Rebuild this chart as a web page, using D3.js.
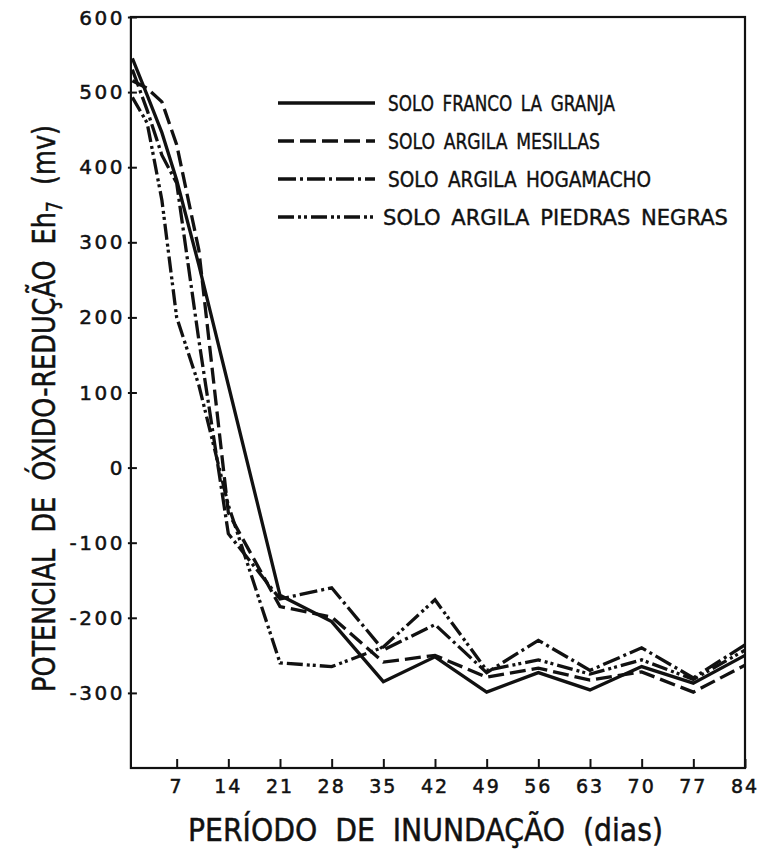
<!DOCTYPE html>
<html>
<head>
<meta charset="utf-8">
<script src="https://cdn.jsdelivr.net/npm/d3@7"></script>
<style>
  body { margin: 0; background: #fff; }
  svg { display: block; }
  text { font-family: "DejaVu Sans", sans-serif; fill: #111; }
</style>
</head>
<body>
<div id="chart"></div>
<script>
// Sampling days (flooding period)
const days = [1, 3, 5, 7, 10, 14, 21, 28, 35, 42, 49, 56, 63, 70, 77, 84];

// Eh7 values (mv)
const francoLaGranja = [545, 496, 446, 383, 270, 110, -170, -205, -285, -252, -299, -273, -296, -265, -287, -250];
const argilaMesillas = [515, 505, 487, 430, 290, -60, -185, -199, -259, -250, -279, -267, -283, -272, -299, -263];
const argilaHogamacho = [530, 476, 416, 379, 170, -88, -175, -160, -243, -209, -273, -230, -270, -240, -280, -236];
const argilaPiedras = [493, 459, 356, 200, 110, -50, -260, -265, -239, -176, -270, -256, -275, -256, -282, -243];

const seriesNames = [
  'SOLO FRANCO LA GRANJA',
  'SOLO ARGILA MESILLAS',
  'SOLO ARGILA HOGAMACHO',
  'SOLO ARGILA PIEDRAS NEGRAS',
];

const xTicks = [7, 14, 21, 28, 35, 42, 49, 56, 63, 70, 77, 84];
const yTicks = [600, 500, 400, 300, 200, 100, 0, -100, -200, -300];

const width = 762;
const height = 853;

const svg = d3.select('#chart')
  .append('svg')
  .attr('width', width)
  .attr('height', height);

const x = d3.scaleLinear().domain([0, 84]).range([125, 745]);
const y = d3.scaleLinear().domain([-400, 600]).range([768, 17]);

// frame
svg.append('rect')
  .attr('x', x(0.8))
  .attr('y', y(600))
  .attr('width', x(84) - x(0.8))
  .attr('height', y(-400) - y(600))
  .attr('fill', 'none')
  .attr('stroke', '#111')
  .attr('stroke-width', 2.2);

// x axis ticks (inward)
const xAxis = d3.axisTop(x).tickValues(xTicks).tickSize(9).tickFormat('');
svg.append('g')
  .attr('transform', `translate(0,${y(-400)})`)
  .call(xAxis)
  .call((g) => g.select('.domain').remove())
  .call((g) => g.selectAll('line').attr('stroke', '#111').attr('stroke-width', 2));

svg.append('g')
  .selectAll('text')
  .data(xTicks)
  .enter()
  .append('text')
  .attr('x', (d) => x(d))
  .attr('y', 793)
  .attr('text-anchor', 'middle')
  .attr('font-size', '19px')
  .attr('letter-spacing', '2px')
  .attr('stroke', '#111')
  .attr('stroke-width', 0.5)
  .text((d) => d);

// y axis ticks
const yAxis = d3.axisRight(y).tickValues(yTicks).tickSize(9).tickFormat('');
svg.append('g')
  .attr('transform', `translate(${x(0.8) - 3},0)`)
  .call(yAxis)
  .call((g) => g.select('.domain').remove())
  .call((g) => g.selectAll('line').attr('stroke', '#111').attr('stroke-width', 2));

svg.append('g')
  .selectAll('text')
  .data(yTicks)
  .enter()
  .append('text')
  .attr('x', 125)
  .attr('y', (d) => (d === 600 ? y(d) + 8 : y(d) + 7))
  .attr('text-anchor', 'end')
  .attr('font-size', '20px')
  .attr('letter-spacing', '2.5px')
  .attr('stroke', '#111')
  .attr('stroke-width', 0.5)
  .text((d) => (d < 0 ? '-' + Math.abs(d) : d));

// series
const series = [
  { name: seriesNames[0], values: francoLaGranja, dash: null },
  { name: seriesNames[1], values: argilaMesillas, dash: '16,6' },
  { name: seriesNames[2], values: argilaHogamacho, dash: '18,4,3,4' },
  { name: seriesNames[3], values: argilaPiedras, dash: '16,4,3,3,3,4' },
];

const line = d3.line()
  .x((d) => x(d[0]))
  .y((d) => y(d[1]));

series.forEach((s) => {
  svg.append('path')
    .datum(days.map((d, i) => [d, s.values[i]]))
    .attr('d', line)
    .attr('fill', 'none')
    .attr('stroke', '#111')
    .attr('stroke-width', 3.3)
    .attr('stroke-linejoin', 'miter')
    .attr('stroke-dasharray', s.dash);
});

// legend
const legendRows = [103, 141, 179, 217];
const legendTextX = [388, 388, 388, 383];
const legendTextW = [227, 212, 263, 345];

const legend = svg.append('g');
series.forEach((s, i) => {
  legend.append('line')
    .attr('x1', 278)
    .attr('x2', 375)
    .attr('y1', legendRows[i])
    .attr('y2', legendRows[i])
    .attr('stroke', '#111')
    .attr('stroke-width', 3.3)
    .attr('stroke-dasharray', s.dash);
  legend.append('text')
    .attr('x', legendTextX[i])
    .attr('y', legendRows[i] + 8)
    .attr('font-size', '21px')
    .attr('word-spacing', '4px')
    .attr('stroke', '#111')
    .attr('stroke-width', 0.4)
    .attr('textLength', legendTextW[i])
    .attr('lengthAdjust', 'spacingAndGlyphs')
    .text(s.name);
});

// axis titles
svg.append('text')
  .attr('x', 188)
  .attr('y', 841)
  .attr('font-size', '32px')
  .attr('word-spacing', '10px')
  .attr('stroke', '#111')
  .attr('stroke-width', 0.5)
  .attr('textLength', 475)
  .attr('lengthAdjust', 'spacingAndGlyphs')
  .text('PERÍODO DE INUNDAÇÃO (dias)');

const yTitle = svg.append('text')
  .attr('transform', 'translate(55,692) rotate(-90)')
  .attr('font-size', '32px')
  .attr('word-spacing', '10px')
  .attr('stroke', '#111')
  .attr('stroke-width', 0.5)
  .attr('textLength', 567)
  .attr('lengthAdjust', 'spacingAndGlyphs');
yTitle.append('tspan').text('POTENCIAL DE ÓXIDO-REDUÇÃO Eh');
yTitle.append('tspan').attr('dy', 7).attr('font-size', '22px').text('7');
yTitle.append('tspan').attr('dy', -7).text(' (mv)');
</script>
</body>
</html>
